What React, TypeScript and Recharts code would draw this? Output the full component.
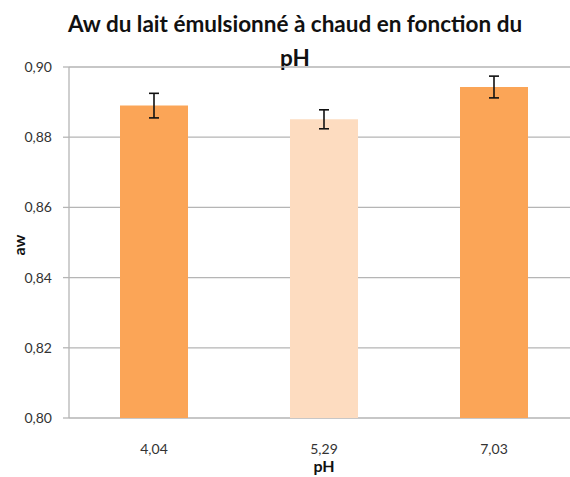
import React from 'react';
import { BarChart, Bar, XAxis, YAxis, CartesianGrid, ErrorBar, Cell } from 'recharts';

const categories = ['4,04', '5,29', '7,03'];
const awMeans = [0.889, 0.8851, 0.8943];
const awErrors = [0.0035, 0.0027, 0.0031];
const barColors = ['#FBA557', '#FDDCC0', '#FBA557'];
const yTicks = [0.8, 0.82, 0.84, 0.86, 0.88, 0.9];
const edgeTicks = [0, 1, 2, 3];

const data = categories.map((c, i) => ({ ph: c, aw: awMeans[i], err: awErrors[i] }));

const FONT = 'Lato, "Open Sans", sans-serif';

export default function App() {
  return (
    <div style={{ position: 'absolute', left: 0, top: 0, width: 570, height: 477, overflow: 'hidden', background: '#fff', fontFamily: FONT }}>
      <div style={{ position: 'absolute', left: 0, width: 590, top: 7, textAlign: 'center', fontWeight: 700, fontSize: 22.5, color: '#111', lineHeight: '34px', whiteSpace: 'nowrap' }}>
        Aw du lait émulsionné à chaud en fonction du<br />pH
      </div>
      <div style={{ position: 'absolute', left: 8, top: 235, width: 20, height: 20, display: 'flex', alignItems: 'center', justifyContent: 'center', transform: 'rotate(-90deg)', fontWeight: 700, fontSize: 16, color: '#111' }}>
        aw
      </div>
      <div style={{ position: 'absolute', left: 0, width: 648, top: 456, lineHeight: '19px', textAlign: 'center', fontWeight: 700, fontSize: 16, color: '#111' }}>
        pH
      </div>
      <BarChart width={570} height={477} data={data} margin={{ top: 67, right: -9, left: 0, bottom: 0 }} barCategoryGap="30%" style={{ overflow: 'hidden' }}>
        <CartesianGrid vertical={false} stroke="#b5b5b5" strokeWidth={1.3} />
        <XAxis xAxisId="edge" type="number" domain={[0, 3]} ticks={edgeTicks} height={0} tickFormatter={() => ''} stroke="#b5b5b5" tickSize={6} tickLine={{ stroke: '#b5b5b5', strokeWidth: 1.3 }} axisLine={{ stroke: '#b5b5b5', strokeWidth: 1.3 }} />
        <XAxis xAxisId="cat" dataKey="ph" height={59} axisLine={false} tickLine={false} tickSize={6} tickMargin={20} tick={{ fill: '#333', fontSize: 14, fontFamily: FONT }} />
        <YAxis domain={[0.8, 0.9]} ticks={yTicks} width={69} tickFormatter={(v: number) => v.toFixed(2).replace('.', ',')} tickSize={6} tickMargin={11} tick={{ fill: '#333', fontSize: 14, fontFamily: FONT }} axisLine={{ stroke: '#b5b5b5', strokeWidth: 1.3 }} tickLine={{ stroke: '#b5b5b5', strokeWidth: 1.3 }} allowDataOverflow />
        <Bar dataKey="aw" xAxisId="cat" isAnimationActive={false}>
          {data.map((d, i) => (
            <Cell key={d.ph} fill={barColors[i]} />
          ))}
          <ErrorBar dataKey="err" width={5} stroke="#111" strokeWidth={1.6} direction="y" />
        </Bar>
      </BarChart>
    </div>
  );
}
